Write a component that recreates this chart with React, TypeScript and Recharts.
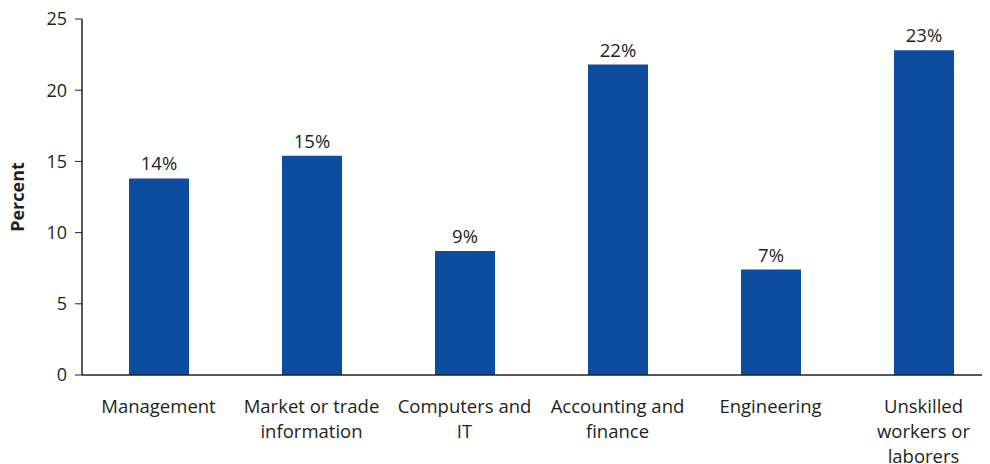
import { BarChart, Bar, XAxis, YAxis, LabelList, Label } from 'recharts'

const categories = [
  'Management',
  'Market or trade\ninformation',
  'Computers and\nIT',
  'Accounting and\nfinance',
  'Engineering',
  'Unskilled\nworkers or\nlaborers',
]
const percents = [13.8, 15.4, 8.7, 21.8, 7.4, 22.8]
const yTicks = [0, 5, 10, 15, 20, 25]

const data = categories.map((c, i) => ({ name: c, value: percents[i] }))

const FONT = '"Open Sans", "Noto Sans", sans-serif'
const TEXT = '#231f20'

function CategoryTick(props: any) {
  const { x, y, payload } = props
  const lines = String(payload.value).split('\n')
  return (
    <text x={x} y={y} textAnchor="middle" fill={TEXT} fontSize={18.5} fontFamily={FONT}>
      {lines.map((l, i) => (
        <tspan key={i} x={x} dy={i === 0 ? 30 : 25}>{l}</tspan>
      ))}
    </text>
  )
}

export default function App() {
  return (
    <div style={{ width: 990, height: 464, overflow: 'hidden', margin: '-8px 0 0 -8px', background: '#fff' }}>
      <BarChart width={1000} height={464} data={data} barSize={60} margin={{ top: 19, right: 0, left: 0, bottom: 0 }}>
        <XAxis
          dataKey="name"
          interval={0}
          height={89}
          tick={<CategoryTick />}
          tickLine={false}
          axisLine={{ stroke: TEXT, strokeWidth: 1.5 }}
        />
        <YAxis
          width={82}
          domain={[0, 25]}
          ticks={yTicks}
          tickSize={7}
          tickMargin={8}
          tick={{ fill: TEXT, fontSize: 18, fontFamily: FONT }}
          tickLine={{ stroke: TEXT }}
          axisLine={{ stroke: TEXT, strokeWidth: 1.5 }}
        >
          <Label
            content={({ viewBox }: any) => {
              const cy = viewBox.y + viewBox.height / 2
              return (
                <text x={17} y={cy} transform={`rotate(-90, 17, ${cy})`} textAnchor="middle" dominantBaseline="central"
                  fill={TEXT} fontSize={18} fontWeight="bold" fontFamily={FONT}>
                  Percent
                </text>
              )
            }}
          />
        </YAxis>
        <Bar dataKey="value" fill="#0d4da0" isAnimationActive={false}>
          <LabelList
            dataKey="value"
            position="top"
            offset={8}
            formatter={(v: any) => `${Math.round(Number(v))}%`}
            style={{ fill: TEXT, fontSize: 18.5, fontFamily: FONT }}
          />
        </Bar>
      </BarChart>
    </div>
  )
}
